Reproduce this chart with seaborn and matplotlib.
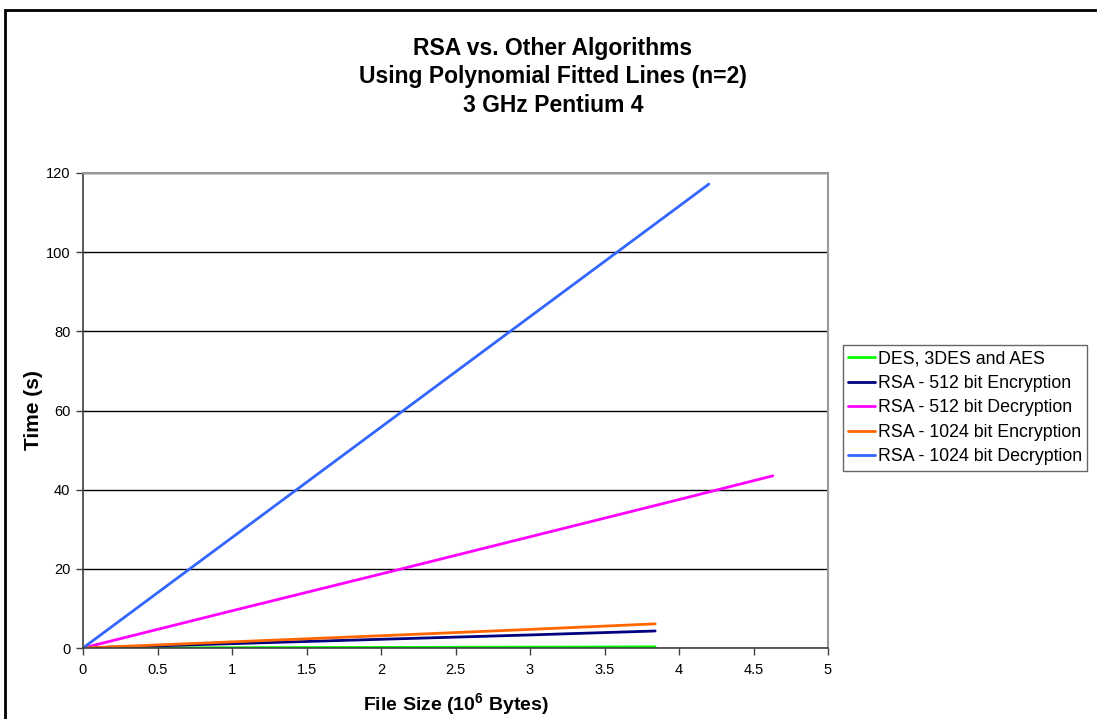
import matplotlib
matplotlib.use("Agg")
import matplotlib.pyplot as plt
import seaborn as sns
import pandas as pd
from matplotlib.patches import Rectangle

# ---- data ----
series_names = ["DES, 3DES and AES", "RSA - 512 bit Encryption", "RSA - 512 bit Decryption",
                "RSA - 1024 bit Encryption", "RSA - 1024 bit Decryption"]
des_x = [0, 1.0, 2.0, 3.0, 3.84]
des_y = [0, 0.08, 0.15, 0.22, 0.3]
rsa512e_x = [0, 1.0, 2.0, 3.0, 3.84]
rsa512e_y = [0, 1.1, 2.2, 3.3, 4.3]
rsa512d_x = [0, 1.0, 2.0, 3.0, 4.0, 4.63]
rsa512d_y = [0, 9.4, 18.7, 28.1, 37.5, 43.5]
rsa1024e_x = [0, 1.0, 2.0, 3.0, 3.84]
rsa1024e_y = [0, 1.55, 3.1, 4.7, 6.1]
rsa1024d_x = [0, 1.0, 2.0, 3.0, 4.0, 4.2]
rsa1024d_y = [0, 27.9, 55.8, 83.7, 111.6, 117.2]
colors = ["#00FF00", "#000080", "#FF00FF", "#FF6600", "#3366FF"]

rows = []
for name, xs, ys in zip(series_names,
                        [des_x, rsa512e_x, rsa512d_x, rsa1024e_x, rsa1024d_x],
                        [des_y, rsa512e_y, rsa512d_y, rsa1024e_y, rsa1024d_y]):
    for x, y in zip(xs, ys):
        rows.append({"size": x, "time": y, "series": name})
df = pd.DataFrame(rows)

sns.set_theme(style="white")
plt.rcParams["font.family"] = ["Liberation Sans", "DejaVu Sans"]
plt.rcParams["mathtext.fontset"] = "custom"
plt.rcParams["mathtext.rm"] = "Liberation Sans"
plt.rcParams["mathtext.bf"] = "Liberation Sans:bold"
plt.rcParams["text.color"] = "black"
plt.rcParams["axes.labelcolor"] = "black"
plt.rcParams["xtick.color"] = "black"
plt.rcParams["ytick.color"] = "black"

fig = plt.figure(figsize=(10.97, 7.19), dpi=100)
ax = fig.add_axes([83 / 1097, 1 - 648 / 719, (828 - 83) / 1097, (648 - 173) / 719])

sns.lineplot(data=df, x="size", y="time", hue="series", hue_order=series_names,
             palette=colors, ax=ax, linewidth=2, sort=False, estimator=None)

ax.set_xlim(0, 5)
ax.set_ylim(0, 120)
ax.set_xticks([0, 0.5, 1, 1.5, 2, 2.5, 3, 3.5, 4, 4.5, 5])
ax.set_xticklabels(["0", "0.5", "1", "1.5", "2", "2.5", "3", "3.5", "4", "4.5", "5"])
ax.set_yticks([0, 20, 40, 60, 80, 100, 120])
ax.yaxis.grid(True, color="black", linewidth=1)
ax.xaxis.grid(False)
ax.set_axisbelow(True)
ax.tick_params(axis="x", direction="out", length=5, width=1, color="#404040",
               labelsize=10.5, pad=6, bottom=True)
ax.tick_params(axis="y", direction="out", length=5, width=1, color="#404040",
               labelsize=10.5, pad=4, left=True)
for side in ["left", "bottom"]:
    ax.spines[side].set_color("#404040")
    ax.spines[side].set_linewidth(1.2)
for side in ["top", "right"]:
    ax.spines[side].set_color("#999999")
    ax.spines[side].set_linewidth(1.5)

ax.set_xlabel(r"File Size (10$^{\mathbf{6}}$ Bytes)", fontsize=14, fontweight="bold", labelpad=10)
ax.set_ylabel("Time (s)", fontsize=15, fontweight="bold", labelpad=2)

fig.text(0.504, 1 - 48 / 719, "RSA vs. Other Algorithms", ha="center", va="center",
         fontsize=16.5, fontweight="bold")
fig.text(0.504, 1 - 77 / 719, "Using Polynomial Fitted Lines (n=2)", ha="center", va="center",
         fontsize=16.5, fontweight="bold")
fig.text(0.504, 1 - 105 / 719, "3 GHz Pentium 4", ha="center", va="center",
         fontsize=16.5, fontweight="bold")

leg = ax.legend(loc="upper left", bbox_to_anchor=(843 / 1097, 1 - 345 / 719),
                bbox_transform=fig.transFigure, frameon=True, fancybox=False,
                fontsize=12.8, handlelength=1.5, handletextpad=0.15, borderpad=0.3,
                labelspacing=0.42, borderaxespad=0)
leg.get_frame().set_edgecolor("#404040")
leg.get_frame().set_linewidth(1)
for line in leg.get_lines():
    line.set_linewidth(2)

fig.patches.append(Rectangle((5 / 1097, -0.05), 1.2, 1 - 10 / 719 + 0.05,
                             transform=fig.transFigure, fill=False,
                             edgecolor="black", linewidth=2))

fig.savefig("out.png", dpi=100)
